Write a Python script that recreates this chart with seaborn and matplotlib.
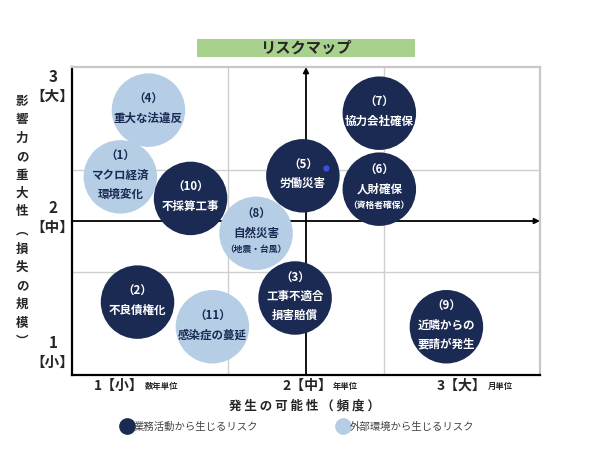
import matplotlib
matplotlib.use("Agg")
import matplotlib.pyplot as plt
from matplotlib.patches import Rectangle
from matplotlib.lines import Line2D
import seaborn as sns
import pandas as pd

# リスクマップのデータ
risk_no = ["（1）", "（2）", "（3）", "（4）", "（5）", "（6）",
           "（7）", "（8）", "（9）", "（10）", "（11）"]
risk_name = ["マクロ経済\n環境変化", "不良債権化", "工事不適合\n損害賠償", "重大な法違反",
             "労働災害", "人財確保", "協力会社確保", "自然災害", "近隣からの\n要請が発生",
             "不採算工事", "感染症の蔓延"]
risk_note = ["", "", "", "", "", "（資格者確保）", "", "（地震・台風）", "", "", ""]
likelihood = [0.81, 0.92, 1.93, 0.99, 1.98, 2.47, 2.47, 1.68, 2.90, 1.26, 1.40]
impact = [2.43, 1.21, 1.25, 3.08, 2.44, 2.31, 3.05, 1.88, 0.97, 2.22, 0.97]
category = ["外部環境から生じるリスク", "業務活動から生じるリスク", "業務活動から生じるリスク",
            "外部環境から生じるリスク", "業務活動から生じるリスク", "業務活動から生じるリスク",
            "業務活動から生じるリスク", "外部環境から生じるリスク", "業務活動から生じるリスク",
            "業務活動から生じるリスク", "外部環境から生じるリスク"]

x_ticks = ["1【小】", "2【中】", "3【大】"]
x_units = ["数年単位", "年単位", "月単位"]
y_ticks = ["1", "2", "3"]
y_brackets = ["【小】", "【中】", "【大】"]

df = pd.DataFrame({"no": risk_no, "name": risk_name, "note": risk_note,
                   "x": likelihood, "y": impact, "cat": category})

DARK = "#1b2a52"
LIGHT = "#b5cde5"
palette = {"業務活動から生じるリスク": DARK, "外部環境から生じるリスク": LIGHT}

sns.set_theme(style="white")
plt.rcParams["font.family"] = ["Noto Sans CJK JP", "DejaVu Sans"]

fig = plt.figure(figsize=(5.93, 4.5), dpi=100)
ax = fig.add_axes([72 / 593, 75 / 450, 468 / 593, 308 / 450])
ax.set_xlim(0.5, 3.5)
ax.set_ylim(0.5, 3.5)

# グリッド
for v in [1.5, 2.5]:
    ax.axvline(v, color="#cfcfcf", lw=1, zorder=1)
    ax.axhline(v, color="#cfcfcf", lw=1, zorder=1)

# 中心の矢印
ax.annotate("", xy=(2.0, 3.5), xytext=(2.0, 0.5),
            arrowprops=dict(arrowstyle="-|>", color="black", lw=1.3, mutation_scale=8,
                            shrinkA=0, shrinkB=0), zorder=2)
ax.annotate("", xy=(3.5, 2.0), xytext=(0.5, 2.0),
            arrowprops=dict(arrowstyle="-|>", color="black", lw=1.3, mutation_scale=8,
                            shrinkA=0, shrinkB=0), zorder=2)

sns.scatterplot(data=df, x="x", y="y", hue="cat", palette=palette, s=2800,
                linewidth=0, legend=False, ax=ax, zorder=3)

# 小さな点
ax.plot([2.13], [2.52], "o", color="#3d4fd8", ms=3.5, zorder=4)

# 円の中の文字
for _, r in df.iterrows():
    tc = "white" if r["cat"] == "業務活動から生じるリスク" else DARK
    lines = [(r["no"], 8.3)] + [(t, 8.3) for t in r["name"].split("\n")]
    if r["note"]:
        lines.append((r["note"], 6.3))
    gaps = [13.5 if fs > 8 else 11.5 for _, fs in lines[1:]]
    off = sum(gaps) / 2 + 1
    for i, (t, fs) in enumerate(lines):
        if i > 0:
            off -= gaps[i - 1]
        ax.annotate(t, (r["x"], r["y"]), xytext=(0, off), textcoords="offset points",
                    ha="center", va="center", color=tc, fontsize=fs, fontweight="bold", zorder=5)

# 枠線
for s in ["left", "bottom"]:
    ax.spines[s].set_color("black")
    ax.spines[s].set_linewidth(1.6)
for s in ["top", "right"]:
    ax.spines[s].set_color("#c8c8c8")
    ax.spines[s].set_linewidth(1.6)
ax.set_xticks([])
ax.set_yticks([])
ax.set_xlabel("")
ax.set_ylabel("")

# 軸ラベル (x)
x_pos = [94, 282, 437]
for lab, unit, px in zip(x_ticks, x_units, x_pos):
    t = fig.text(px / 593, 1 - 386 / 450, lab, fontsize=10, fontweight="bold", va="center")
    ax.annotate(unit, xy=(1, 0.45), xycoords=t, xytext=(0.5, 0), textcoords="offset points",
                fontsize=6, fontweight="bold", va="center", ha="left")

# 軸ラベル (y)
y_pos = [343, 208, 77]
for lab, br, py in zip(y_ticks, y_brackets, y_pos):
    fig.text(53 / 593, 1 - py / 450, lab, fontsize=11, fontweight="bold", ha="center", va="center")
    fig.text(52 / 593, 1 - (py + 19) / 450, br, fontsize=10.5, fontweight="bold", ha="center", va="center")

ylab = "影響力の重大性︵損失の規模︶"
for i, ch in enumerate(ylab):
    fig.text(22 / 593, 1 - (101 + i * 18.5) / 450, ch, fontsize=9, fontweight="bold",
             ha="center", va="center")

fig.text(304 / 593, 1 - 406 / 450, "発 生 の 可 能 性 （ 頻 度 ）", fontsize=9,
         fontweight="bold", ha="center", va="center")

# タイトル
fig.add_artist(Rectangle((197 / 593, 1 - 57 / 450), 218 / 593, 18 / 450,
                         transform=fig.transFigure, facecolor="#a9d18e", edgecolor="none"))
fig.text(306 / 593, 1 - 48 / 450, "リスクマップ", fontsize=11, fontweight="bold",
         ha="center", va="center")

# 凡例
handles = [Line2D([], [], marker="o", ls="", color=DARK, ms=11),
           Line2D([], [], marker="o", ls="", color=LIGHT, ms=11)]
fig.legend(handles, ["業務活動から生じるリスク", "外部環境から生じるリスク"], ncol=2,
           loc="center left", bbox_to_anchor=(111 / 593, 1 - 427 / 450), frameon=False,
           fontsize=7.5, labelcolor="#444444", handletextpad=0.1, columnspacing=7.5,
           handlelength=1.2)

fig.savefig("out.png", dpi=100)
